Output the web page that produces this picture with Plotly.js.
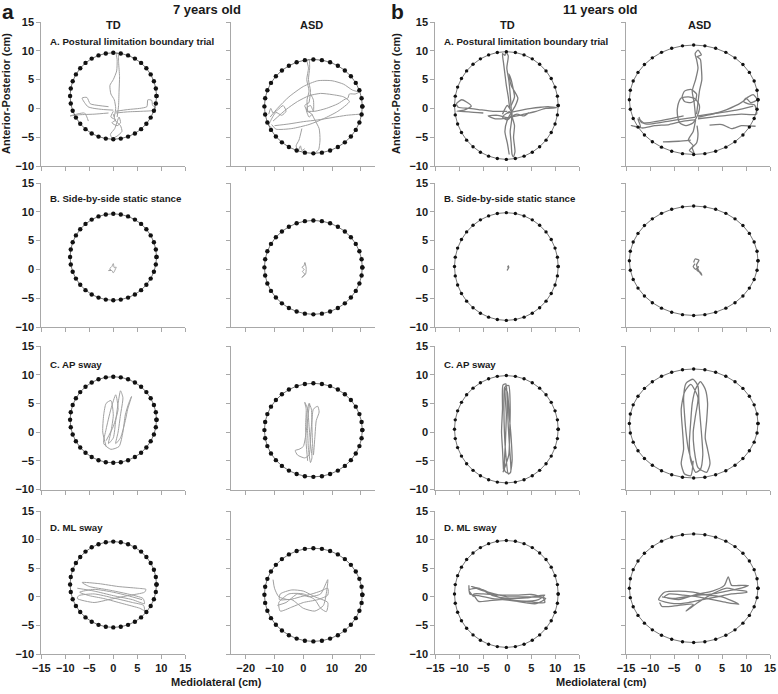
<!DOCTYPE html>
<html><head><meta charset="utf-8">
<script src="https://cdn.plot.ly/plotly-3.0.1.min.js"></script>
<style>html,body{margin:0;padding:0;background:#fff}#chart{width:778px;height:694px}</style>
</head><body><div id="chart"></div>
<script>
// ---- Stability boundaries (cm), one per column ----
const boundary7TD_x = [9, 8.86, 8.46, 7.79, 6.89, 5.79, 4.5, 3.08, 1.56, 0, -1.56, -3.08, -4.5, -5.79, -6.89, -7.79, -8.46, -8.86, -9, -8.86, -8.46, -7.79, -6.89, -5.79, -4.5, -3.08, -1.56, 0, 1.56, 3.08, 4.5, 5.79, 6.89, 7.79, 8.46, 8.86, 9];
const boundary7TD_y = [2.15, 3.45, 4.72, 5.9, 6.97, 7.9, 8.65, 9.2, 9.54, 9.65, 9.54, 9.2, 8.65, 7.9, 6.97, 5.9, 4.72, 3.45, 2.15, 0.85, -0.42, -1.6, -2.67, -3.6, -4.35, -4.9, -5.24, -5.35, -5.24, -4.9, -4.35, -3.6, -2.67, -1.6, -0.42, 0.85, 2.15];
const boundary7ASD_x = [20.5, 20.24, 19.48, 18.22, 16.52, 14.43, 12.0, 9.31, 6.46, 3.5, 0.54, -2.31, -5.0, -7.43, -9.52, -11.22, -12.48, -13.24, -13.5, -13.24, -12.48, -11.22, -9.52, -7.43, -5.0, -2.31, 0.54, 3.5, 6.46, 9.31, 12.0, 14.43, 16.52, 18.22, 19.48, 20.24, 20.5];
const boundary7ASD_y = [0.35, 1.77, 3.14, 4.43, 5.59, 6.59, 7.41, 8.01, 8.38, 8.5, 8.38, 8.01, 7.41, 6.59, 5.59, 4.43, 3.14, 1.77, 0.35, -1.07, -2.44, -3.73, -4.89, -5.89, -6.71, -7.31, -7.68, -7.8, -7.68, -7.31, -6.71, -5.89, -4.89, -3.73, -2.44, -1.07, 0.35];
const boundary11TD_x = [10.6, 10.44, 9.95, 9.15, 8.07, 6.74, 5.2, 3.49, 1.68, -0.2, -2.08, -3.89, -5.6, -7.14, -8.47, -9.55, -10.35, -10.84, -11.0, -10.84, -10.35, -9.55, -8.47, -7.14, -5.6, -3.89, -2.08, -0.2, 1.68, 3.49, 5.2, 6.74, 8.07, 9.15, 9.95, 10.44, 10.6];
const boundary11TD_y = [0.5, 2.13, 3.7, 5.18, 6.51, 7.66, 8.6, 9.29, 9.71, 9.85, 9.71, 9.29, 8.6, 7.66, 6.51, 5.18, 3.7, 2.13, 0.5, -1.13, -2.7, -4.18, -5.51, -6.66, -7.6, -8.29, -8.71, -8.85, -8.71, -8.29, -7.6, -6.66, -5.51, -4.18, -2.7, -1.13, 0.5];
const boundary11ASD_x = [12.5, 12.3, 11.7, 10.7, 9.36, 7.71, 5.8, 3.68, 1.43, -0.9, -3.23, -5.48, -7.6, -9.51, -11.16, -12.5, -13.5, -14.1, -14.3, -14.1, -13.5, -12.5, -11.16, -9.51, -7.6, -5.48, -3.23, -0.9, 1.43, 3.68, 5.8, 7.71, 9.36, 10.7, 11.7, 12.3, 12.5];
const boundary11ASD_y = [1.5, 3.15, 4.75, 6.25, 7.61, 8.78, 9.73, 10.43, 10.86, 11.0, 10.86, 10.43, 9.73, 8.78, 7.61, 6.25, 4.75, 3.15, 1.5, -0.15, -1.75, -3.25, -4.61, -5.78, -6.73, -7.43, -7.86, -8.0, -7.86, -7.43, -6.73, -5.78, -4.61, -3.25, -1.75, -0.15, 1.5];

// ---- Centre-of-pressure sway paths (cm), segments of [ML, AP] ----
const sway7TD_A = [
  [[0.2,-1.5],[0.5,0],[0.2,1.5],[-0.5,2.5],[-0.7,4],[0,5],[0.7,6.5],[0.8,8.5],[0.6,9.6],[1.0,9.5],[1.1,8],[1.3,5.5],[1.2,3],[1.1,0.5],[0.8,-1.5]],
  [[0.5,-0.5],[3,-0.2],[5.5,0],[7,0.3],[7.2,1.5],[8,1.4],[8.2,0.5],[8.8,0.2],[8.6,-0.3],[6,-0.5],[3,-0.6],[0.5,-0.8]],
  [[0,-0.3],[-2,-0.2],[-4,0],[-5.3,0.3],[-6.5,1.8],[-5.5,1.9],[-4.8,0.8],[-3,0.5],[-1,0.3]],
  [[-1,-0.8],[-4,-1],[-7,-1.1],[-9,-1.3],[-6,-0.8],[-5.5,-1.5],[-5.2,-2.2]],
  [[0,-0.5],[-0.5,-1.5],[0.5,-2],[-0.3,-2.5],[0.8,-3],[1.5,-2.5],[1.2,-1.5],[0.3,-3.5],[-0.6,-4.5],[-0.2,-5.2],[0.8,-4.8],[1.8,-4],[1.5,-3],[0.5,-2.2],[0,-1]]
];
const sway7ASD_A = [
  [[1.5,-0.5],[1.3,1.5],[2.0,3],[1.2,5],[1.8,7],[1.3,8.3],[2.0,8.5],[2.2,7],[1.8,5],[2.5,3],[2.0,1]],
  [[2,1],[0.5,0.5],[1.5,-0.5],[3,-1],[2,-1.5],[1,0],[2.5,0.5],[3.5,-0.5],[3.5,1.5],[2.5,2.5]],
  [[-11.5,-1.5],[-9,0],[-5,2.0],[0,3.8],[5,4.8],[10,4.8],[14,4.2],[17,3.2],[19.3,2.8],[18,2.5],[16,2.5],[15.5,1.8],[14.5,1.6],[12,0.8],[8,0],[4,-0.5],[1,-0.5]],
  [[-10.5,-2.2],[-6,-0.2],[-2,1.2],[2,2.2],[6,2.6],[10,2.4],[14,2.0],[16,1.2],[12,-0.5],[7,-1.8],[2,-2.8],[-4,-3.5],[-9.5,-3.6],[-11,-2.8]],
  [[-10,-3.0],[-5,-2.7],[0,-2.3],[5,-2.0],[10,-1.6],[15,-1.2],[19.8,-1.0]],
  [[3,-1],[4,-2],[5.5,-3.5],[5.8,-5.5],[5.3,-7.2],[4.5,-7.5]],
  [[-12,-1],[-11.3,0],[-10.5,-0.8],[-9,-0.3],[-7,0.5],[-6,-0.5],[-7.5,-1.2],[-9.5,-0.7],[-11.5,-2.3],[-12,-3],[-11,-3.3]],
  [[-0.5,-3.5],[-1.5,-5.5],[-2.5,-6.5],[-1.8,-7.4],[-1,-6.5],[-0.5,-7.3],[0.5,-7.0]]
];
const sway11TD_A = [
  [[0.5,0],[0.2,2],[-0.2,4],[-0.5,6],[-0.8,8],[-1,9.5],[-0.5,9.2],[-0.3,9.8],[0.2,9.1],[-0.1,7],[0.3,5],[0.6,2.5],[0.8,0],[0.9,-2],[0.6,-4],[0.8,-6],[1.0,-8],[1.3,-8.4],[1.6,-7.5],[1.3,-5],[1.5,-3],[1,-1.5]],
  [[0.8,0.5],[1.5,2],[1.2,3.5],[0.8,5],[0.3,6],[0.8,4],[2.2,1.8],[1.7,0.5],[1,-0.5],[0,-2],[-0.5,-4],[0,-6],[0.4,-8]],
  [[0,-0.5],[-3,-0.5],[-6,-0.2],[-8,0],[-10.2,0.2],[-10.6,0.8],[-9.5,1.5],[-8.5,1.1],[-7.5,0.4],[-9,-0.3],[-10.5,-0.5],[-8,-0.6],[-5,-0.8]],
  [[0,-0.8],[3,-0.3],[5,0],[7,0.2],[8.5,0.3],[10.3,0.1],[8,0],[6,-0.5],[4,-0.9],[2,-1.3],[0,-1.6],[-2,-1.2],[-4,-1.3],[-2.5,-1.8],[0,-1.7],[2,-1],[3.5,-1.3],[4.5,-0.7]],
  [[-1,-1],[0,0.5],[1,-1],[0,-2],[-1,-1.5],[0.5,-0.5]]
];
const sway11ASD_A = [
  [[-0.5,-1.5],[-0.8,1],[-1.2,3],[-0.5,5],[0,7],[-0.3,8.5],[-0.6,9.5],[0,10.1],[0.7,9.3],[-0.2,9],[0.5,8.5],[0.7,7],[0.8,5],[0.3,3],[0,1],[-0.3,-1]],
  [[-2,2],[-3.5,1.8],[-4.2,0.5],[-4.3,-1],[-3.8,-2.5],[-2.5,-3],[-1,-2.5],[0,-1],[0.3,0.5],[-0.5,1.6],[-2,2]],
  [[-1.5,3.3],[-2.8,3],[-3.3,2],[-2.8,1.2],[-1.5,1],[-0.5,1.5],[-0.3,2.5],[-1.5,3.3]],
  [[0,-1.5],[3,-1],[6,-0.2],[9,1],[10.5,2],[11.5,2.4],[12.3,1.5],[11,1],[10,1.8],[9.5,1.2],[10.5,0.8],[11.8,0.6],[12.2,-1.0],[9,-1.0],[6,-1.2],[3,-1.5],[0,-1.8]],
  [[0,-1.3],[4,-0.8],[8,-0.3],[11.5,0.4]],
  [[-0.5,-1.5],[-3,-1.8],[-6,-2.2],[-9,-2.6],[-11,-2.7],[-12.5,-1.8],[-12,-3.2],[-13.9,-3],[-11.5,-3.4],[-9,-3],[-6,-2.8],[-3,-2.2],[-0.5,-2]],
  [[-3,-1.3],[-7,-2.0],[-11.7,-2.5],[-12.3,-1.5]],
  [[-0.5,-2],[-1,-4],[-2,-5.5],[-1,-6.5],[-1.8,-7.3],[-0.8,-7.8],[-1.2,-6.8],[-0.3,-6],[0,-4.5],[-0.2,-3]],
  [[-7.3,-5.8],[-4,-5.7],[-1.5,-5.5]],
  [[2.4,-2.9],[5,-2.8],[7,-3.5],[9,-3],[12,-3.1]]
];
const sway7TD_B = [[[-0.8,0.1],[-0.3,0.5],[0,1],[0.2,0.3],[0.6,0.4],[0.3,-0.2],[0,-0.6],[-0.3,-0.2],[-1,-0.2],[-0.5,0]]];
const sway7ASD_B = [[[0.5,1.2],[0.2,0.6],[-0.5,0.4],[0.3,0],[-0.3,-0.4],[0.5,-0.8],[-0.5,-1.4],[0.8,-0.8],[1,0.2],[0.6,1.2]]];
const sway11TD_B = [[[0.1,0.6],[0.2,0.2],[0.0,-0.1],[0.3,0.3],[0.2,0.7]]];
const sway11ASD_B = [[[-0.6,1.0],[-1.0,0.5],[-0.5,0],[0.1,0.5],[-0.2,-0.2],[0.5,-0.5],[0.8,-1.0],[0.2,-0.3],[-0.3,0.8],[0.2,1.6],[-0.6,1.8],[-0.9,1.2]]];
const sway7TD_C = [[[-1.5,-2.5],[-2.2,0],[-2.0,3],[-1.5,5],[-0.5,5.5],[0,3],[-0.5,0],[-1,-2],[0,-1],[0.5,2],[1,5],[1.5,7.2],[2,6],[1.5,3],[1,0],[0.5,-2],[1.5,-1],[2.5,2],[3,4],[3.8,6.2],[3.2,5],[2.5,3],[2,0],[1.2,-2.5],[-0.5,-3],[-2,-2],[-1.5,0.5],[-0.5,4],[0.5,6.5],[1,4],[0,1],[-1.5,-1.5]]];
const sway7ASD_C = [[[1.5,-5],[1,-2],[0.8,1],[1,4],[0.5,5.2],[1.5,4],[2,1],[2.5,-2],[3,-4.5],[2.5,-5.3],[1.8,-3],[1.5,0],[1.2,3],[2,5],[2.8,4],[3,1],[3.2,-2],[3.5,-4],[4,-1],[4.5,2],[5.5,3.5],[5,4.5],[3.5,4],[3,2],[2.5,-1],[2,-4],[0.5,-4.5],[-2,-4],[-2.8,-3.2],[-1.5,-3],[0,-2.5],[1,0],[1.8,3.5],[2.2,5]]];
const sway11TD_C = [[[-0.8,-6.5],[-1,-3],[-1.2,0],[-1,4],[-0.9,8.2],[-0.3,8.4],[0,5],[0.2,1],[0.5,-3],[0.7,-7],[0.2,-7.3],[-0.3,-4],[-0.6,0],[-0.7,4],[-0.6,7.8],[0,7],[0.4,3],[0.8,-1],[1,-5],[0.5,-7.2],[-0.5,-6.8],[-0.4,-2],[-0.2,3],[-0.4,8],[0.3,8.1],[0.6,4],[0.5,0],[0.3,-4],[-0.9,-7]]];
const sway11ASD_C = [[[-1,-6],[-2,-3],[-2.5,0],[-2.8,3],[-3,6],[-2.5,8.5],[-1,9.2],[0,8],[0.2,5],[0.5,2],[0.8,-1],[1,-4],[0.5,-6.5],[-0.5,-7],[-1.5,-5],[-1.8,-2],[-1.5,2],[-1.2,5],[-0.5,7.5],[0.5,8.8],[1.5,7.5],[2,5],[1.8,2],[1.5,-1],[2,-3],[2.5,-5.5],[1.8,-7],[0,-6.2],[-0.8,-3],[-1,0],[-0.5,3],[0,6],[-1.5,8.3],[-2.8,7],[-3.5,4],[-3.2,0],[-3,-3],[-3.5,-5.5],[-2.8,-7.3],[-1.5,-7.6],[-1,-5]]];
const sway7TD_D = [[[-7.5,1.5],[-4,1.0],[0,0.2],[4,-0.5],[6.5,-1.2],[6.2,-0.3],[3,0.5],[-1,1.2],[-5,1.8],[-6.5,2.5],[-3,2.3],[1,1.8],[5,1.5],[6.8,1.3],[6.5,0.8],[3,0.2],[-1,-0.5],[-4,-1],[-7.5,-0.3],[-7.2,0.2],[-4,0.5],[0,-0.2],[4,-1.0],[6.3,-1.5],[6.5,-2.4],[5.5,-2.0],[2,-1.2],[-2,-0.3],[-5,0.2],[-7,0.8],[-4,1.3],[0,0.8],[3,0.2],[6,-0.5]]];
const sway7ASD_D = [[[-10.5,3],[-10,1.5],[-8.5,0],[-5,-0.5],[-1,0],[3,0.5],[6,1],[8.5,1.5],[8.5,0.3],[5,-0.5],[0,-1],[-4,-1.8],[-8,-2.5],[-8.5,-1],[-5,0.5],[0,0.5],[4,-0.5],[6,-2],[8,-2.6],[8.5,-1],[4,0],[0,1],[-4,1.2],[-8,0.5],[-8.3,-0.5],[-4,-0.5],[0,-2.0],[4,-2.5],[7,-1.5],[8.5,3],[6,0.5],[2,0],[-2,0.5],[-6,-1],[-9,-1.5]]];
const sway11TD_D = [[[-8,2],[-7.8,0.5],[-6,0.2],[-3,-0.3],[0,-0.5],[4,-0.8],[7.8,-1],[7.5,-0.2],[4,0],[0,0],[-4,0.8],[-7.5,1.8],[-5,1.2],[-2,0],[2,-0.8],[6,-1.2],[8,-0.3],[5,0.4],[2,0.3],[-1,0.3],[-5,0.5],[-7,0.5],[-6,-0.8],[-4,-0.7],[-1,-0.5],[3,-0.8],[6.5,-0.5],[7.8,0.3],[4,-0.2],[0,-0.3],[-3,0.2],[-6,1.5],[-8,1.2],[-7,0]]];
const sway11ASD_D = [[[-8,-1],[-7.5,-1.7],[-4,-1.5],[-1,-1.3],[-2.5,-2.5],[0,-1],[3,0.5],[6,1.5],[8,1.2],[10,1],[10.2,0.8],[7,0.5],[4,0],[1,-0.5],[-2,-1],[-5,-1.2],[-8.2,-0.5],[-7,0.8],[-4,1],[-1,0.8],[2,0.3],[5,0],[8.5,-1.3],[6,-1],[3,-0.5],[0,0],[-3,0.3],[-6,0.5],[-7,0],[-4,-0.5],[0,0.5],[3,1],[5.5,2],[6.3,3.5],[7,2],[9,2],[10.5,2],[9,1.5],[6,1],[3,0.5],[-1,0.2],[-5,-0.3],[-7.5,0]]];

const yTicks = [-10, -5, 0, 5, 10, 15];
const xTicks7TD = [-15, -10, -5, 0, 5, 10, 15];
const xTicks7ASD = [-20, -10, 0, 10, 20];
const xTicks11 = [-15, -10, -5, 0, 5, 10, 15];
const rowLabels = ['A. Postural limitation boundary trial', 'B. Side-by-side static stance', 'C. AP sway', 'D. ML sway'];
const groupLabels = ['TD', 'ASD', 'TD', 'ASD'];

// ---- layout geometry (pixels) ----
const W = 778, H = 694;
const colPx = [[41.3,185.3],[231.3,375.3],[435.3,579.3],[626,770]];
const rowPx = [[22,166],[183,327],[346,489.5],[511,654]];
const xRanges = [[-15,15],[-25,25],[-15,15],[-15,15]];
const xTickSets = [xTicks7TD, xTicks7ASD, xTicks11, xTicks11];
const boundaries = [[boundary7TD_x,boundary7TD_y],[boundary7ASD_x,boundary7ASD_y],[boundary11TD_x,boundary11TD_y],[boundary11ASD_x,boundary11ASD_y]];
const sways = [
  [sway7TD_A, sway7ASD_A, sway11TD_A, sway11ASD_A],
  [sway7TD_B, sway7ASD_B, sway11TD_B, sway11ASD_B],
  [sway7TD_C, sway7ASD_C, sway11TD_C, sway11ASD_C],
  [sway7TD_D, sway7ASD_D, sway11TD_D, sway11ASD_D]
];

const FONT = 'Arial, Liberation Sans, Helvetica, sans-serif';
const axisColor = '#a8a8a8';
const traces = [];
const layout = {
  width: W, height: H, margin: {l:0, r:0, t:0, b:0},
  paper_bgcolor: '#fff', plot_bgcolor: '#fff', showlegend: false, hovermode: false,
  annotations: []
};
const px = v => v / W, py = v => 1 - v / H;

for (let r = 0; r < 4; r++) {
  for (let c = 0; c < 4; c++) {
    const i = r * 4 + c + 1;
    const xa = 'x' + (i === 1 ? '' : i), ya = 'y' + (i === 1 ? '' : i);
    const xk = 'xaxis' + (i === 1 ? '' : i), yk = 'yaxis' + (i === 1 ? '' : i);
    const older = c >= 2;
    layout[xk] = {
      domain: [px(colPx[c][0]), px(colPx[c][1])], range: xRanges[c], anchor: ya,
      tickvals: xTickSets[c], showticklabels: r === 3,
      showgrid: false, zeroline: false, showline: true, linecolor: axisColor, linewidth: 1,
      ticks: 'outside', ticklen: 4, tickcolor: axisColor, tickwidth: 1,
      tickfont: {family: FONT, size: 11, color: '#1a1a1a', weight: 'bold'}, fixedrange: true
    };
    layout[yk] = {
      domain: [py(rowPx[r][1]), py(rowPx[r][0])], range: [-10, 15], anchor: xa,
      tickvals: yTicks, showticklabels: c === 0 || c === 2,
      showgrid: false, zeroline: false, showline: true, linecolor: axisColor, linewidth: 1,
      ticks: 'outside', ticklen: 4, tickcolor: axisColor, tickwidth: 1,
      tickfont: {family: FONT, size: 11, color: '#1a1a1a', weight: 'bold'}, fixedrange: true
    };
    // sway path
    const sx = [], sy = [];
    sways[r][c].forEach(seg => { seg.forEach(p => { sx.push(p[0]); sy.push(p[1]); }); sx.push(null); sy.push(null); });
    traces.push({
      type: 'scatter', mode: 'lines', x: sx, y: sy, xaxis: xa, yaxis: ya,
      line: {color: older ? '#7d7d7d' : '#a0a0a0', width: older ? 1.3 : 1, shape: 'spline', smoothing: 0.6},
      connectgaps: false, hoverinfo: 'skip'
    });
    // boundary
    traces.push({
      type: 'scatter', mode: 'lines+markers', x: boundaries[c][0], y: boundaries[c][1], xaxis: xa, yaxis: ya,
      line: {color: '#555', width: 0.8},
      marker: {color: '#111', size: older ? 3.4 : 4.4, line: {width: 0}},
      hoverinfo: 'skip'
    });
  }
}

const ann = (text, x, y, size, opts) => Object.assign({
  text: '<b>' + text + '</b>', x: px(x), y: py(y), xref: 'paper', yref: 'paper',
  showarrow: false, font: {family: FONT, size: size, color: '#1a1a1a'}, xanchor: 'center', yanchor: 'middle'
}, opts || {});

layout.annotations.push(
  ann('a', 8, 12, 21),
  ann('7 years old', 207, 9, 13),
  ann('b', 397.5, 12, 21),
  ann('11 years old', 600, 9, 13),
  ann(groupLabels[0], 113, 25, 11),
  ann(groupLabels[1], 311.5, 25, 11),
  ann(groupLabels[2], 507, 25, 11),
  ann(groupLabels[3], 699, 25, 11),
  ann('Anterior-Posterior (cm)', 6, 94, 11, {textangle: -90}),
  ann('Anterior-Posterior (cm)', 396, 94, 11, {textangle: -90}),
  ann('Mediolateral (cm)', 217, 682, 11),
  ann('Mediolateral (cm)', 601, 682, 11)
);
const rowLabelY = [42, 198, 364, 527];
rowLabels.forEach((t, r) => {
  layout.annotations.push(ann(t, 48, rowLabelY[r], 9.7, {xanchor: 'left'}));
  layout.annotations.push(ann(t, 442, rowLabelY[r], 9.7, {xanchor: 'left'}));
});

Plotly.newPlot('chart', traces, layout, {staticPlot: true, displayModeBar: false});
</script>
</body></html>
